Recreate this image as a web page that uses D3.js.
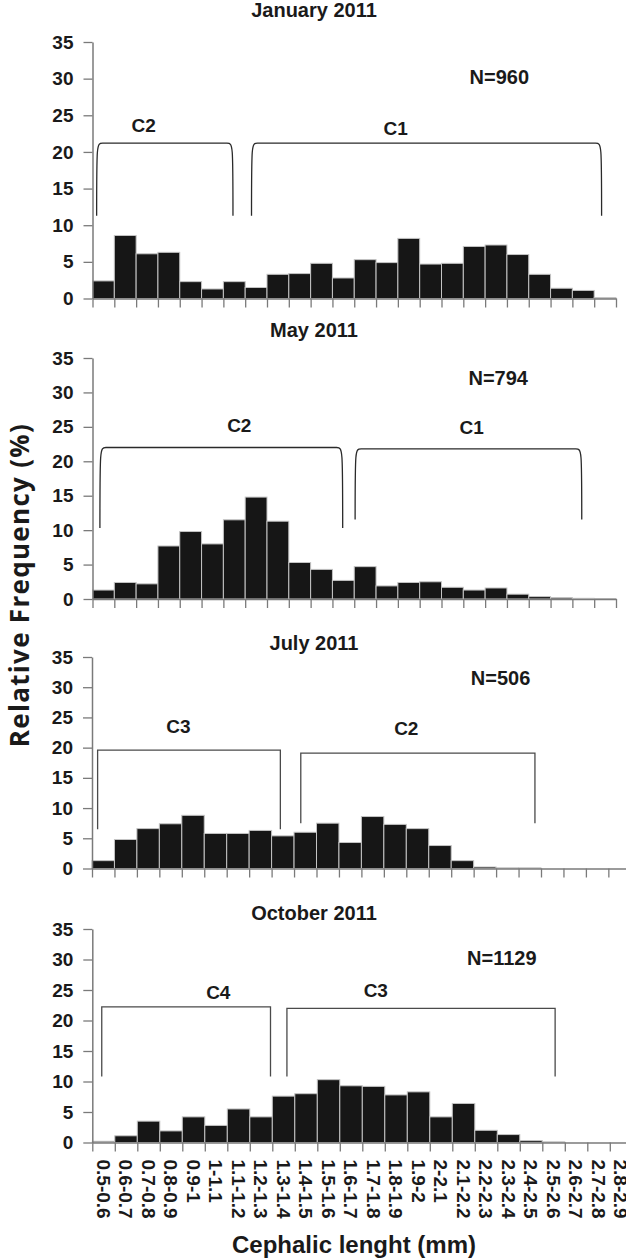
<!DOCTYPE html>
<html>
<head>
<meta charset="utf-8">
<script src="https://cdn.jsdelivr.net/npm/d3@7"></script>
<style>
  body { margin: 0; background: #fff; }
  text { font-family: "Liberation Sans", Arial, sans-serif; font-weight: bold; fill: #1a1a1a; }
</style>
</head>
<body>
<div id="chart"></div>
<script>
// size classes (mm), shared by all four months
const bins = ["0.5-0.6", "0.6-0.7", "0.7-0.8", "0.8-0.9", "0.9-1", "1-1.1", "1.1-1.2", "1.2-1.3",
  "1.3-1.4", "1.4-1.5", "1.5-1.6", "1.6-1.7", "1.7-1.8", "1.8-1.9", "1.9-2", "2-2.1",
  "2.1-2.2", "2.2-2.3", "2.3-2.4", "2.4-2.5", "2.5-2.6", "2.6-2.7", "2.7-2.8", "2.8-2.9"];

const monthTitles = ["January 2011", "May 2011", "July 2011", "October 2011"];
const sampleSizes = ["N=960", "N=794", "N=506", "N=1129"];

// relative frequency (%) per size class
const janValues = [2.4, 8.6, 6.1, 6.3, 2.3, 1.3, 2.3, 1.5, 3.3, 3.4, 4.8, 2.8,
  5.3, 4.9, 8.2, 4.7, 4.8, 7.1, 7.3, 6.0, 3.3, 1.4, 1.1, 0.1];
const mayValues = [1.3, 2.4, 2.2, 7.7, 9.8, 8.0, 11.5, 14.8, 11.3, 5.3, 4.3, 2.7,
  4.7, 1.9, 2.4, 2.5, 1.7, 1.3, 1.6, 0.7, 0.35, 0.2, 0.1, 0.05];
const julValues = [1.3, 4.8, 6.6, 7.4, 8.8, 5.8, 5.8, 6.3, 5.4, 6.0, 7.5, 4.3,
  8.6, 7.3, 6.6, 3.8, 1.3, 0.25, 0.1, 0.1, 0, 0, 0, 0];
const octValues = [0.2, 1.1, 3.5, 1.9, 4.2, 2.8, 5.5, 4.2, 7.6, 8.0, 10.3, 9.3,
  9.2, 7.8, 8.3, 4.2, 6.4, 2.0, 1.3, 0.3, 0.1, 0, 0, 0];

const yTicks = [0, 5, 10, 15, 20, 25, 30, 35];

// cohort brackets: span in size-class units, top/bottom in %
const cohorts = [
  [{ name: "C2", from: 0.19, to: 6.44, top: 21.2, bottom: 11.3, lx: 2.35, ly: 23.7 },
   { name: "C1", from: 7.29, to: 23.34, top: 21.2, bottom: 11.3, lx: 13.9, ly: 23.3 }],
  [{ name: "C2", from: 0.34, to: 11.47, top: 22.0, bottom: 10.3, lx: 6.73, ly: 25.3 },
   { name: "C1", from: 12.04, to: 22.43, top: 21.8, bottom: 11.55, lx: 17.38, ly: 24.9 }],
  [{ name: "C3", from: 0.25, to: 8.39, top: 19.6, bottom: 6.5, lx: 3.85, ly: 23.5 },
   { name: "C2", from: 9.3, to: 19.73, top: 19.1, bottom: 7.5, lx: 14.0, ly: 23.3 }],
  [{ name: "C4", from: 0.42, to: 7.92, top: 22.25, bottom: 10.8, lx: 5.6, ly: 24.7 },
   { name: "C3", from: 8.65, to: 20.57, top: 22.0, bottom: 10.8, lx: 12.6, ly: 25.0 }]
];
const nPos = [[18.65, 30.3], [18.6, 32.1], [18.2, 31.5], [18.2, 30.3]];

let width = 626, height = 1259;
let titleX = 314;

let svg = d3.select("#chart").append("svg")
  .attr("width", width)
  .attr("height", height);

let panels = [
  { values: janValues, x0: 92.5, x1: 616, yTop: 42, yBase: 298.5, titleY: 17, curved: true },
  { values: mayValues, x0: 92.5, x1: 616, yTop: 358, yBase: 599, titleY: 337, curved: true },
  { values: julValues, x0: 92, x1: 92 + 24 * 22.45, yTop: 657, yBase: 868.5, titleY: 650, curved: false },
  { values: octValues, x0: 92.3, x1: 92.3 + 24 * 22.5, yTop: 929, yBase: 1142.5, titleY: 920, curved: false }
];

panels.forEach((p, i) => {
  let g = svg.append("g");

  let x = d3.scaleBand()
    .domain(bins)
    .range([p.x0, p.x1])
    .paddingInner(0);
  // same range, in size-class units, for ticks at the class limits and for annotations
  let xi = d3.scaleLinear()
    .domain([0, bins.length])
    .range([p.x0, p.x1]);
  let y = d3.scaleLinear()
    .domain([0, 35])
    .range([p.yBase, p.yTop]);

  g.selectAll(".bar")
    .data(p.values)
    .enter()
    .append("rect")
    .attr("class", "bar")
    .attr("x", (d, k) => x(bins[k]))
    .attr("width", x.bandwidth())
    .attr("y", d => y(d))
    .attr("height", d => p.yBase - y(d))
    .attr("fill", "#161616")
    .attr("stroke", "#c4c4c4")
    .attr("stroke-width", 1);

  // x axis: ticks on class limits
  let xaxis = g.append("g")
    .attr("transform", "translate(0," + p.yBase + ")")
    .call(d3.axisBottom(xi).tickValues(d3.range(0, bins.length + 1)).tickSize(9).tickSizeOuter(0).tickFormat(""));
  xaxis.select(".domain").attr("stroke", "#7a7a7a").attr("stroke-width", 1.5);
  xaxis.selectAll(".tick line").attr("stroke", "#7a7a7a").attr("stroke-width", 1.3);

  // size class labels only under the last panel
  if (i == panels.length - 1) {
    g.append("g")
      .selectAll("text")
      .data(bins)
      .enter()
      .append("text")
      .attr("transform", d => "translate(" + (x(d) + x.bandwidth() / 2) + "," + (p.yBase + 17) + ") rotate(90)")
      .attr("dy", "0.36em")
      .attr("text-anchor", "start")
      .attr("font-size", "19px")
      .text(d => d);
  }

  // y axis
  let yaxis = g.append("g")
    .attr("transform", "translate(" + p.x0 + ",0)")
    .call(d3.axisLeft(y).tickValues(yTicks).tickSize(9).tickSizeOuter(0).tickPadding(10));
  yaxis.select(".domain").attr("stroke", "#7a7a7a").attr("stroke-width", 1.5);
  yaxis.selectAll(".tick line").attr("stroke", "#7a7a7a").attr("stroke-width", 1.3);
  yaxis.selectAll(".tick text")
    .attr("font-size", "19px")
    .attr("font-family", '"Liberation Sans", Arial, sans-serif')
    .attr("font-weight", "bold")
    .attr("fill", "#1a1a1a");

  // title
  g.append("text")
    .attr("x", titleX)
    .attr("y", p.titleY)
    .attr("text-anchor", "middle")
    .attr("font-size", "20px")
    .text(monthTitles[i]);

  // sample size
  g.append("text")
    .attr("x", xi(nPos[i][0]))
    .attr("y", y(nPos[i][1]))
    .attr("dy", "0.36em")
    .attr("text-anchor", "middle")
    .attr("font-size", "20px")
    .text(sampleSizes[i]);

  // cohort brackets
  cohorts[i].forEach(c => {
    let a = xi(c.from), b = xi(c.to), t = y(c.top), bt = y(c.bottom);
    let path;
    if (p.curved) {
      let d = 6;
      path = "M" + a + "," + bt + " C" + a + "," + t + " " + a + "," + t + " " + (a + d) + "," + t +
        " L" + (b - d) + "," + t + " C" + b + "," + t + " " + b + "," + t + " " + b + "," + bt;
    } else {
      path = "M" + a + "," + bt + " L" + a + "," + t + " L" + b + "," + t + " L" + b + "," + bt;
    }
    g.append("path")
      .attr("d", path)
      .attr("fill", "none")
      .attr("stroke", p.curved ? "#2a2a2a" : "#4a4a4a")
      .attr("stroke-width", 1.3);

    g.append("text")
      .attr("x", xi(c.lx))
      .attr("y", y(c.ly))
      .attr("dy", "0.36em")
      .attr("text-anchor", "middle")
      .attr("font-size", "19px")
      .text(c.name);
  });
});

// text label for the y axis
svg.append("text")
  .attr("transform", "translate(29,585) rotate(-90)")
  .attr("text-anchor", "middle")
  .style("font-family", '"Open Sans", "Noto Sans", sans-serif')
  .style("letter-spacing", "1.3px")
  .attr("font-size", "26px")
  .text("Relative Frequency (%)");

// text label for the x axis
svg.append("text")
  .attr("x", 354)
  .attr("y", 1253)
  .attr("text-anchor", "middle")
  .attr("font-size", "24px")
  .text("Cephalic lenght (mm)");
</script>
</body>
</html>
